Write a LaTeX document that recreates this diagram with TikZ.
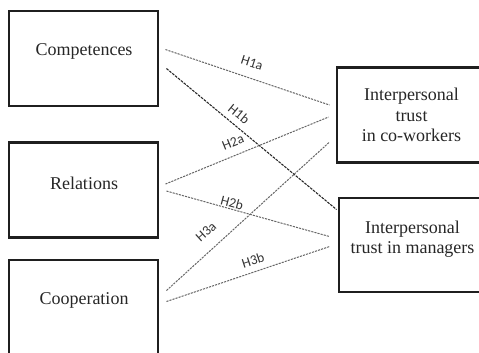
\documentclass[tikz,border=0pt]{standalone}
\usepackage{fontspec}
\setmainfont{Liberation Serif}
\newfontfamily\lblfont{Carlito}
\begin{document}
\begin{tikzpicture}[x=0.75pt,y=-0.75pt,
  box/.style={draw=black!88,line width=2.2pt,minimum width=149*0.75pt,minimum height=95*0.75pt,inner sep=0pt},
  txt/.style={font=\fontsize{13.5}{15.4}\selectfont,align=center,text=black!85,inner sep=0pt},
  conn/.style={draw=black!60,line width=0.75pt,dash pattern=on 1.6pt off 0.8pt},
  conndark/.style={draw=black!85,line width=0.8pt,dash pattern=on 2pt off 0.8pt},
  lbl/.style={font=\lblfont\fontsize{10.3}{11}\selectfont,text=black!80,inner sep=0pt}]
\useasboundingbox (0,0) rectangle (479,353);
\begin{scope}
\clip (0,0) rectangle (479,353);
\node[box] (comp) at (83.5,58.5) {};
\node[box] (rel) at (83.5,190) {};
\node[box] (coop) at (83.5,307.5) {};
\node[box] (cow) at (411.5,115) {};
\node[box,minimum height=94*0.75pt] (man) at (413.5,245) {};
\end{scope}
\node[txt] (comptxt) at (84,51.5) {Competences};
\node[txt] (reltxt) at (84,183) {Relations};
\node[txt] (cooptxt) at (84,300) {Cooperation};
\node[txt] (cowtxt) at (411.5,115) {Interpersonal\\trust\\in co-workers};
\node[txt] (mantxt) at (412.5,239) {Interpersonal\\trust in managers};
% connectors
\draw[conn] ([shift={(6,40)}]comp.north east) -- ([shift={(-6,39)}]cow.north west);
\draw[conndark] ([shift={(7,59)}]comp.north east) -- ([shift={(-1,13)}]man.north west);
\draw[conn] ([shift={(6,43)}]rel.north east) -- ([shift={(-7,51)}]cow.north west);
\draw[conn] ([shift={(7,50)}]rel.north east) -- ([shift={(-8,40)}]man.north west);
\draw[conn] ([shift={(7,32)}]coop.north east) -- ([shift={(-6,76)}]cow.north west);
\draw[conn] ([shift={(7,43)}]coop.north east) -- ([shift={(-8,50)}]man.north west);
% labels
\node[lbl,rotate=-18] (h1a) at (252,63) {H1a};
\node[lbl,rotate=-39] (h1b) at (239,114) {H1b};
\node[lbl,rotate=22] (h2a) at (233,142) {H2a};
\node[lbl,rotate=-15] (h2b) at (232,203) {H2b};
\node[lbl,rotate=42] (h3a) at (206,232) {H3a};
\node[lbl,rotate=18] (h3b) at (253,260) {H3b};
\end{tikzpicture}
\end{document}
